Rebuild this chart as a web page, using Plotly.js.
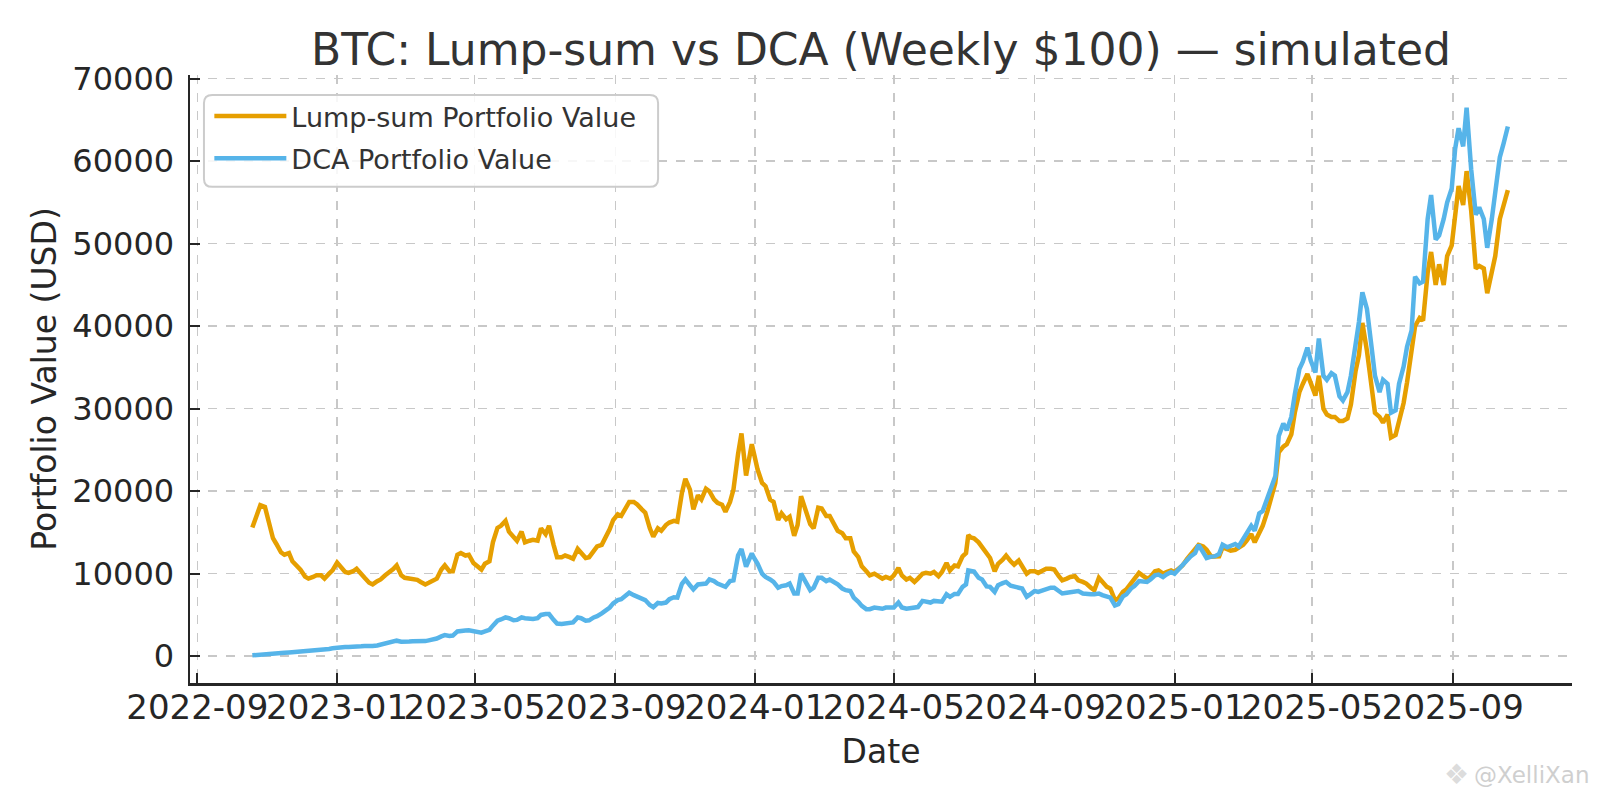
<!DOCTYPE html>
<html>
<head>
<meta charset="utf-8">
<script src="https://cdn.plot.ly/plotly-3.0.1.min.js"></script>
<style>html,body{margin:0;padding:0;background:#fff;}#chart{width:1600px;height:800px;}</style>
</head>
<body>
<div id="chart"></div>
<script>
// one line per month (roughly twice-weekly readings)
const dates = [
"2022-10-19","2022-10-23","2022-10-26","2022-10-30",
"2022-11-02","2022-11-06","2022-11-09","2022-11-13","2022-11-16","2022-11-20","2022-11-23","2022-11-27","2022-11-30",
"2022-12-04","2022-12-07","2022-12-11","2022-12-14","2022-12-18","2022-12-21","2022-12-25","2022-12-28",
"2023-01-01","2023-01-04","2023-01-08","2023-01-11","2023-01-15","2023-01-18","2023-01-22","2023-01-25","2023-01-29",
"2023-02-01","2023-02-05","2023-02-08","2023-02-12","2023-02-15","2023-02-19","2023-02-22","2023-02-26",
"2023-03-01","2023-03-05","2023-03-08","2023-03-12","2023-03-15","2023-03-19","2023-03-22","2023-03-26","2023-03-29",
"2023-04-02","2023-04-05","2023-04-09","2023-04-12","2023-04-16","2023-04-19","2023-04-23","2023-04-26","2023-04-30",
"2023-05-03","2023-05-07","2023-05-10","2023-05-14","2023-05-17","2023-05-21","2023-05-24","2023-05-28","2023-05-31",
"2023-06-04","2023-06-07","2023-06-11","2023-06-14","2023-06-18","2023-06-21","2023-06-25","2023-06-28",
"2023-07-02","2023-07-05","2023-07-09","2023-07-12","2023-07-16","2023-07-19","2023-07-23","2023-07-26","2023-07-30",
"2023-08-02","2023-08-06","2023-08-09","2023-08-13","2023-08-16","2023-08-20","2023-08-23","2023-08-27","2023-08-30",
"2023-09-03","2023-09-06","2023-09-10","2023-09-13","2023-09-17","2023-09-20","2023-09-24","2023-09-27",
"2023-10-01","2023-10-04","2023-10-08","2023-10-11","2023-10-15","2023-10-18","2023-10-22","2023-10-25","2023-10-29",
"2023-11-01","2023-11-05","2023-11-08","2023-11-12","2023-11-15","2023-11-19","2023-11-22","2023-11-26","2023-11-29",
"2023-12-03","2023-12-06","2023-12-10","2023-12-13","2023-12-17","2023-12-20","2023-12-24","2023-12-27","2023-12-29","2023-12-31",
"2024-01-03","2024-01-07","2024-01-10","2024-01-14","2024-01-17","2024-01-21","2024-01-24","2024-01-28","2024-01-31",
"2024-02-04","2024-02-07","2024-02-10","2024-02-14","2024-02-18","2024-02-21","2024-02-25","2024-02-28",
"2024-03-03","2024-03-06","2024-03-10","2024-03-13","2024-03-17","2024-03-20","2024-03-24","2024-03-27","2024-03-31",
"2024-04-03","2024-04-07","2024-04-10","2024-04-14","2024-04-17","2024-04-21","2024-04-24","2024-04-28",
"2024-05-01","2024-05-05","2024-05-08","2024-05-12","2024-05-15","2024-05-19","2024-05-22","2024-05-26","2024-05-29",
"2024-06-02","2024-06-05","2024-06-09","2024-06-12","2024-06-16","2024-06-19","2024-06-23","2024-06-26","2024-06-30",
"2024-07-03","2024-07-05","2024-07-07","2024-07-10","2024-07-14","2024-07-17","2024-07-21","2024-07-24","2024-07-28","2024-07-31",
"2024-08-04","2024-08-07","2024-08-11","2024-08-14","2024-08-18","2024-08-21","2024-08-25","2024-08-28",
"2024-09-01","2024-09-04","2024-09-08","2024-09-11","2024-09-15","2024-09-18","2024-09-22","2024-09-25","2024-09-29",
"2024-10-02","2024-10-06","2024-10-09","2024-10-13","2024-10-16","2024-10-20","2024-10-23","2024-10-27","2024-10-30",
"2024-11-03","2024-11-06","2024-11-10","2024-11-13","2024-11-17","2024-11-20","2024-11-24","2024-11-27",
"2024-12-01","2024-12-04","2024-12-08","2024-12-11","2024-12-15","2024-12-18","2024-12-22","2024-12-25","2024-12-29",
"2025-01-01","2025-01-05","2025-01-08","2025-01-12","2025-01-15","2025-01-19","2025-01-22","2025-01-26","2025-01-29",
"2025-02-02","2025-02-05","2025-02-09","2025-02-12","2025-02-16","2025-02-19","2025-02-23","2025-02-26",
"2025-03-02","2025-03-05","2025-03-09","2025-03-12","2025-03-16","2025-03-19","2025-03-23","2025-03-26","2025-03-30",
"2025-04-02","2025-04-06","2025-04-09","2025-04-13","2025-04-16","2025-04-20","2025-04-23","2025-04-27","2025-04-30",
"2025-05-04","2025-05-07","2025-05-11","2025-05-14","2025-05-18","2025-05-21","2025-05-25","2025-05-28",
"2025-06-01","2025-06-04","2025-06-08","2025-06-11","2025-06-14","2025-06-18","2025-06-22","2025-06-25","2025-06-29",
"2025-07-02","2025-07-06","2025-07-09","2025-07-13","2025-07-16","2025-07-20","2025-07-23","2025-07-27","2025-07-30",
"2025-08-03","2025-08-06","2025-08-10","2025-08-13","2025-08-17","2025-08-20","2025-08-24","2025-08-27","2025-08-31",
"2025-09-03","2025-09-06","2025-09-10","2025-09-13","2025-09-17","2025-09-21","2025-09-24","2025-09-28",
"2025-10-01","2025-10-05","2025-10-08","2025-10-12","2025-10-15","2025-10-19"
];

const lumpSumValue = [
15600,17000,18300,18100,
16500,14300,13600,12600,12300,12500,11500,10900,10500,
9650,9400,9600,9800,9800,9400,10000,10400,
11350,10800,10200,10100,10300,10600,9900,9500,8900,
8700,9100,9300,9800,10100,10550,11000,9800,
9500,9400,9400,9250,9000,8700,8900,9200,9400,
10500,11000,10300,10300,12300,12500,12200,12300,11300,
11000,10500,11200,11500,13800,15550,15800,16400,15100,
14500,14000,15100,13800,14000,14100,14000,15500,
14800,15800,13500,12000,12000,12200,12000,11800,13000,
12600,11900,12000,12800,13300,13500,14300,15400,16500,
17200,17000,18000,18700,18700,18400,17800,17400,
15500,14500,15500,15200,15900,16200,16400,16300,19800,
21500,20200,17800,19500,19000,20300,20000,19000,18600,
18370,17500,18700,20200,24500,27000,21900,24000,25700,24500,
22650,21000,20600,18980,18700,16500,17300,16600,16900,
14600,15900,19400,17800,16000,15500,18000,17900,
17000,17000,16000,15200,14900,14300,14300,12700,12000,
10900,10300,9800,10000,9700,9400,9600,9400,
9800,10700,9800,9300,9500,9000,9400,10000,10100,
10000,10200,9700,10200,11300,10400,11000,10900,12100,
12500,14700,14400,14300,13800,13200,12300,11900,10300,11200,
11700,12200,11500,11100,11600,10800,10000,10300,
10300,10100,10450,10600,10600,10500,9700,9200,9400,
9600,9700,9200,9000,8800,8300,8000,9500,9000,
8400,8200,6800,7000,7800,8100,8900,9400,
10100,9800,9400,9600,10300,10400,10000,10200,10400,
10200,10600,11000,11800,12300,12900,13500,13300,12900,
12070,12100,12100,13200,12900,12800,12900,13200,
13500,14000,14800,13800,15000,15800,17500,19000,21000,
24700,25400,25700,26900,29500,32000,33000,34200,33100,
31600,34000,30000,29300,29000,29000,28500,28500,
28800,30500,34500,36500,40400,37000,32500,29500,29000,
28300,29300,26500,26800,28300,30700,33200,37000,40000,
41000,40700,46500,49000,45000,47500,45000,48500,49800,
54000,57000,54700,58800,54000,47000,47300,47000,
44000,46500,48500,53000,54500,56500
];

const dcaValue = [
100,160,220,260,
300,320,345,380,410,450,480,510,540,
565,590,650,710,745,780,870,960,
1060,1090,1100,1120,1190,1260,1200,1240,1200,
1230,1300,1420,1530,1640,1780,1880,1760,
1730,1770,1810,1800,1840,1830,1920,2000,2140,
2400,2550,2450,2500,3000,3100,3100,3150,3000,
2950,2860,3000,3200,3700,4300,4450,4700,4600,
4350,4400,4700,4600,4500,4500,4600,5000,
5100,5100,4400,3950,3900,4000,4080,4100,4700,
4600,4300,4350,4700,4850,5200,5450,5900,6400,
6800,6900,7300,7700,7400,7200,7000,6800,
6200,5950,6450,6400,6500,6900,7140,7100,8780,
9300,8600,8100,8700,8700,8800,9300,9100,8800,
8570,8400,9100,9200,12200,13000,10850,11800,12450,11900,
11220,10000,9600,9300,9000,8300,8500,8600,8800,
7600,7600,10000,9100,8000,8300,9500,9500,
9100,9300,9000,8700,8200,8000,7900,7100,6600,
6100,5700,5700,5900,5800,5750,5900,5920,
5900,6500,5900,5750,5800,5900,5950,6700,6600,
6500,6700,6700,6600,7500,7200,7550,7550,8400,
8700,10400,10300,10250,9500,9300,8450,8400,7800,8600,
8850,9000,8550,8500,8300,8200,7200,7500,
7900,7800,8000,8100,8300,8300,7900,7600,7700,
7800,7900,7900,7600,7500,7500,7500,7600,7400,
7250,7100,6150,6300,7250,7500,8200,8500,
9100,9100,9000,9300,9800,9900,9600,9900,10200,
10000,10600,11000,11700,12100,12500,13500,12600,11900,
12070,12100,12400,13500,13200,13400,13600,13300,
14300,15000,15800,15200,17300,17600,19000,20300,21800,
26700,28200,27400,29000,31700,34800,35700,37400,35800,
34400,38500,34000,33500,34300,34000,31500,31000,
32000,34000,37500,40500,44100,42100,37500,34000,32000,
33500,33000,29500,29800,33000,35100,37500,39500,46000,
45200,45400,53000,55900,50500,51000,53000,55000,56700,
61500,64000,61800,66500,59000,53500,54400,53000,
49500,53000,56000,60500,62000,64200
];

const seriesNames = ["Lump-sum Portfolio Value", "DCA Portfolio Value"];
const seriesColors = ["#E69F00", "#56B4E9"];

const FONT = "DejaVu Sans, Liberation Sans, sans-serif";
const INK = "#262626";

const traces = [
  {x: dates, y: lumpSumValue, name: seriesNames[0], type: "scatter", mode: "lines",
   line: {color: seriesColors[0], width: 4.5}, legendgroup: "a"},
  {x: dates, y: dcaValue, name: seriesNames[1], type: "scatter", mode: "lines",
   line: {color: seriesColors[1], width: 4.5}, legendgroup: "b"}
];

// legend frame (rounded, matplotlib-like)
const lx0 = 0.0101, lx1 = 0.3387, ly0 = 0.816, ly1 = 0.967, rx = 0.006, ry = 0.0135;
const legendPath = `M${lx0+rx},${ly0} L${lx1-rx},${ly0} Q${lx1},${ly0} ${lx1},${ly0+ry} L${lx1},${ly1-ry} Q${lx1},${ly1} ${lx1-rx},${ly1} L${lx0+rx},${ly1} Q${lx0},${ly1} ${lx0},${ly1-ry} L${lx0},${ly0+ry} Q${lx0},${ly0} ${lx0+rx},${ly0} Z`;

const layout = {
  width: 1600, height: 800,
  margin: {l: 190, r: 28, t: 75, b: 117},
  paper_bgcolor: "#ffffff", plot_bgcolor: "#ffffff",
  font: {family: FONT, color: INK},
  title: {text: "BTC: Lump-sum vs DCA (Weekly $100) — simulated",
          font: {family: FONT, size: 44, color: "#333333"},
          x: 0.5, xref: "paper", xanchor: "center",
          y: 0.9375, yref: "container", yanchor: "middle"},
  xaxis: {
    type: "date",
    range: ["2022-08-25 14:00", "2025-12-14"],
    tick0: "2022-09-01", dtick: "M4", tickformat: "%Y-%m",
    tickangle: 0,
    showgrid: true, gridcolor: "#c8c8c8", griddash: "dash", gridwidth: 1.5,
    showline: true, linecolor: INK, linewidth: 2.5, mirror: false,
    ticks: "inside", ticklen: 10, tickwidth: 2, tickcolor: INK,
    tickfont: {family: FONT, size: 34, color: INK},
    ticklabelstandoff: -7,
    zeroline: false,
    title: {text: "Date", font: {family: FONT, size: 33, color: INK}, standoff: 14}
  },
  yaxis: {
    range: [-3250, 70450],
    tick0: 0, dtick: 10000, tickformat: "d",
    showgrid: true, gridcolor: "#c8c8c8", griddash: "dash", gridwidth: 1.5,
    showline: true, linecolor: INK, linewidth: 2.5, mirror: false,
    ticks: "inside", ticklen: 10, tickwidth: 2, tickcolor: INK,
    tickfont: {family: FONT, size: 32, color: INK},
    ticklabelstandoff: 7,
    zeroline: false,
    title: {text: "Portfolio Value (USD)", font: {family: FONT, size: 33, color: INK}, standoff: 6}
  },
  showlegend: true,
  legend: {
    x: 0.014, y: 0.972, xanchor: "left", yanchor: "top",
    bgcolor: "rgba(0,0,0,0)", borderwidth: 0,
    font: {family: FONT, size: 27, color: "#333333"},
    traceorder: "grouped", tracegroupgap: 4, itemwidth: 72
  },
  shapes: [
    {type: "path", xref: "paper", yref: "paper", path: legendPath,
     fillcolor: "rgba(255,255,255,0.85)", line: {color: "#cccccc", width: 2}, layer: "above"}
  ],
  annotations: [
    {text: "@XelliXan", xref: "paper", yref: "paper", x: 1.0135, y: -0.151,
     xanchor: "right", yanchor: "middle", showarrow: false,
     font: {family: FONT, size: 23, color: "#cfcfcf"}},
    {text: "❖", xref: "paper", yref: "paper", x: 0.9165, y: -0.151,
     xanchor: "center", yanchor: "middle", showarrow: false,
     font: {family: FONT, size: 28, color: "#dcdcdc"}}
  ]
};

Plotly.newPlot("chart", traces, layout, {displayModeBar: false, staticPlot: true});
</script>
</body>
</html>
